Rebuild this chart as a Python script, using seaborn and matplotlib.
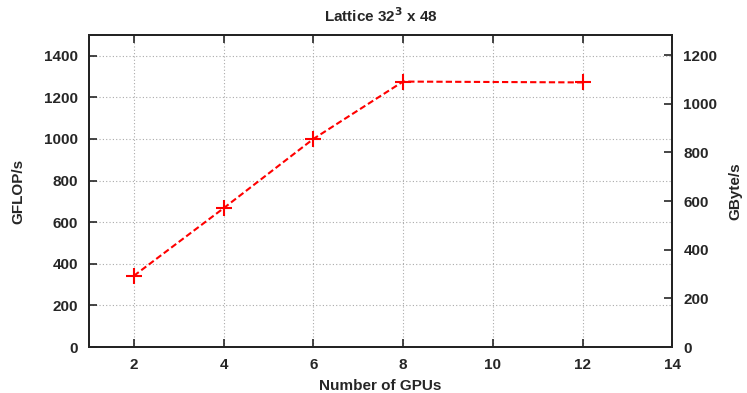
import numpy as np
import pandas as pd
import matplotlib
matplotlib.use("Agg")
import matplotlib.pyplot as plt
import seaborn as sns

# Data
gpus = [2, 4, 6, 8, 12]
gflops = [342, 667, 1000, 1276, 1272]

df = pd.DataFrame({"gpus": gpus, "gflops": gflops})

sns.set_style("ticks")
plt.rcParams["font.family"] = ["Liberation Sans", "DejaVu Sans"]
plt.rcParams["font.weight"] = "bold"

fig = plt.figure(figsize=(7.47, 3.93), dpi=100)
ax = fig.add_axes([0.119, 0.117, 0.781, 0.794])

sns.lineplot(data=df, x="gpus", y="gflops", ax=ax, color="red",
             linestyle=(0, (3, 1.5)), linewidth=1.5, marker="+",
             markersize=12, markeredgewidth=1.5, markeredgecolor="red",
             zorder=3)

ax.set_xlim(1, 14)
ax.set_ylim(0, 1500)
ax.set_xticks(range(2, 15, 2))
ax.set_yticks(range(0, 1401, 200))
ax.grid(True, color="#aaaaaa", linestyle=(0, (1, 2)), linewidth=0.8)
ax.tick_params(direction="in", length=6, width=1.2, labelsize=11, top=True,
               right=False, pad=8)
for s in ax.spines.values():
    s.set_linewidth(1.3)
    s.set_color("black")
ax.set_xlabel("Number of GPUs", fontsize=11, fontweight="bold", labelpad=5)
ax.set_ylabel("GFLOP/s", fontsize=11, fontweight="bold", labelpad=13)
ax.set_title("Lattice 32$^{\\mathbf{3}}$ x 48", fontsize=11, fontweight="bold", pad=9)

ax2 = ax.twinx()
ax2.set_ylim(0, 1283)
ax2.set_yticks(range(0, 1201, 200))
ax2.tick_params(direction="in", length=6, width=1.2, labelsize=11, pad=8)
for s in ax2.spines.values():
    s.set_linewidth(1.3)
ax2.set_ylabel("GByte/s", fontsize=11, fontweight="bold", labelpad=8)

fig.savefig("out.png", dpi=100)
